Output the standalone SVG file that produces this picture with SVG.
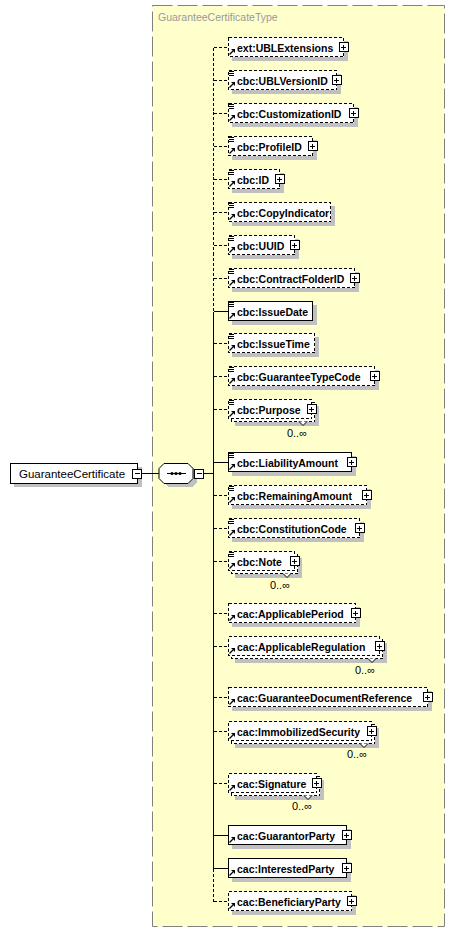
<svg xmlns="http://www.w3.org/2000/svg" xmlns:xlink="http://www.w3.org/1999/xlink" width="457" height="942" viewBox="0 0 457 942">
<style>
.bg{fill:#FFFFCC;stroke:#808080;stroke-width:1;stroke-dasharray:20,5}
.title{font-family:"Liberation Sans",Arial,sans-serif;font-size:10.5px;fill:#999999}
.box{fill:#fff;stroke:#000;stroke-width:1;shape-rendering:crispEdges}
.opt{stroke-dasharray:3,2}
.sh{fill:#C0C0C0;shape-rendering:crispEdges}
.lbl{font-family:"Liberation Sans",Arial,sans-serif;font-size:10.5px;font-weight:bold;fill:#000}
.root{font-family:"Liberation Sans",Arial,sans-serif;font-size:11.5px;fill:#000}
.occ{font-family:"Liberation Sans",Arial,sans-serif;font-size:11px;fill:#000;text-anchor:end}
.ln{stroke:#000;stroke-width:1;fill:none;shape-rendering:crispEdges}
.dl{stroke:#000;stroke-width:1;fill:none;stroke-dasharray:3,2;shape-rendering:crispEdges}
.pm{fill:#fff;stroke:#000;stroke-width:1;shape-rendering:crispEdges}
</style>
<defs>
<g id="ref"><path d="M1.5,6.5 L5,3" stroke="#000" stroke-width="1.3" fill="none"/><polygon points="3,1 7,1 7,5" fill="#000"/></g>
<g id="simple"><path d="M1,1.5 H6 M1,3.5 H6 M1,5.5 H6" stroke="#000" stroke-width="1" fill="none" shape-rendering="crispEdges"/></g>
<g id="plus"><rect x="-4.5" y="-4.5" width="9" height="9" class="pm"/><path d="M-2.5,0 H2.5 M0,-2.5 V2.5" stroke="#000" stroke-width="1" shape-rendering="crispEdges"/></g>
<g id="minus"><rect x="-4.5" y="-4.5" width="9" height="9" class="pm"/><path d="M-2.5,0 H2.5" stroke="#000" stroke-width="1" shape-rendering="crispEdges"/></g>
</defs>

<rect class="bg" x="152.5" y="5.5" width="292" height="921"/>
<text class="title" x="158" y="21">GuaranteeCertificateType</text>

<g id="connectors">
<path class="ln" d="M141.5,473.5 H159"/>
<path class="ln" d="M203.5,473.5 H213.5"/>
<path class="dl" d="M213.5,47.5 V311.5"/>
<path class="ln" d="M213.5,311.5 V868.5"/>
<path class="dl" d="M213.5,868.5 V901.5"/>
<path class="dl" d="M213.5,47.5 H228"/>
<path class="dl" d="M213.5,80.5 H228"/>
<path class="dl" d="M213.5,113.5 H228"/>
<path class="dl" d="M213.5,146.5 H228"/>
<path class="dl" d="M213.5,179.5 H228"/>
<path class="dl" d="M213.5,212.5 H228"/>
<path class="dl" d="M213.5,245.5 H228"/>
<path class="dl" d="M213.5,278.5 H228"/>
<path class="ln" d="M213.5,311.5 H228"/>
<path class="dl" d="M213.5,343.5 H228"/>
<path class="dl" d="M213.5,376.5 H228"/>
<path class="dl" d="M213.5,409.5 H228"/>
<path class="ln" d="M213.5,462.5 H228"/>
<path class="dl" d="M213.5,495.5 H228"/>
<path class="dl" d="M213.5,528.5 H228"/>
<path class="dl" d="M213.5,561.5 H228"/>
<path class="dl" d="M213.5,613.5 H228"/>
<path class="dl" d="M213.5,646.5 H228"/>
<path class="dl" d="M213.5,697.5 H228"/>
<path class="dl" d="M213.5,731.5 H228"/>
<path class="dl" d="M213.5,783.5 H228"/>
<path class="ln" d="M213.5,835.5 H228"/>
<path class="ln" d="M213.5,868.5 H228"/>
<path class="dl" d="M213.5,901.5 H228"/>
</g>

<g id="root">
<rect class="sh" x="14" y="467" width="128" height="20"/>
<rect class="box" x="10.5" y="463.5" width="127" height="20"/>
<text class="root" x="19" y="477.5">GuaranteeCertificate</text>
<use xlink:href="#minus" x="137" y="473.5"/>
</g>

<g id="sequence">
<path class="sh" d="M168,467 H192 L197,472 V482 L192,487 H168 L163,482 V472 Z"/>
<path d="M164,463.5 H188 L193,468.5 V478.5 L188,483.5 H164 L159,478.5 V468.5 Z" fill="#fff" stroke="#000"/>
<path d="M167,473.5 H186" stroke="#000" stroke-width="1"/>
<circle cx="172" cy="473.5" r="1.6"/><circle cx="176" cy="473.5" r="1.6"/><circle cx="180" cy="473.5" r="1.6"/>
<use xlink:href="#minus" x="199" y="473.5"/>
</g>

<g id="e01"><rect class="sh" x="232" y="41" width="116" height="20"/><rect class="box opt" x="228.5" y="37.5" width="115" height="19"/><use xlink:href="#ref" x="228" y="48"/><text class="lbl" x="237" y="51.5">ext:UBLExtensions</text><use xlink:href="#plus" x="343.5" y="47"/></g>
<g id="e02"><rect class="sh" x="232" y="74" width="109" height="20"/><rect class="box opt" x="228.5" y="70.5" width="108" height="19"/><use xlink:href="#simple" x="228" y="70"/><use xlink:href="#ref" x="228" y="81"/><text class="lbl" x="237" y="84.5">cbc:UBLVersionID</text><use xlink:href="#plus" x="336.5" y="80"/></g>
<g id="e03"><rect class="sh" x="232" y="107" width="126" height="20"/><rect class="box opt" x="228.5" y="103.5" width="125" height="19"/><use xlink:href="#simple" x="228" y="103"/><use xlink:href="#ref" x="228" y="114"/><text class="lbl" x="237" y="117.5">cbc:CustomizationID</text><use xlink:href="#plus" x="353.5" y="113"/></g>
<g id="e04"><rect class="sh" x="232" y="140" width="85" height="20"/><rect class="box opt" x="228.5" y="136.5" width="84" height="19"/><use xlink:href="#simple" x="228" y="136"/><use xlink:href="#ref" x="228" y="147"/><text class="lbl" x="237" y="150.5">cbc:ProfileID</text><use xlink:href="#plus" x="312.5" y="146"/></g>
<g id="e05"><rect class="sh" x="232" y="173" width="52" height="20"/><rect class="box opt" x="228.5" y="169.5" width="51" height="19"/><use xlink:href="#simple" x="228" y="169"/><use xlink:href="#ref" x="228" y="180"/><text class="lbl" x="237" y="183.5">cbc:ID</text><use xlink:href="#plus" x="279.5" y="179"/></g>
<g id="e06"><rect class="sh" x="232" y="206" width="103" height="20"/><rect class="box opt" x="228.5" y="202.5" width="102" height="19"/><use xlink:href="#simple" x="228" y="202"/><use xlink:href="#ref" x="228" y="213"/><text class="lbl" x="237" y="216.5">cbc:CopyIndicator</text></g>
<g id="e07"><rect class="sh" x="232" y="239" width="67" height="20"/><rect class="box opt" x="228.5" y="235.5" width="66" height="19"/><use xlink:href="#simple" x="228" y="235"/><use xlink:href="#ref" x="228" y="246"/><text class="lbl" x="237" y="249.5">cbc:UUID</text><use xlink:href="#plus" x="294.5" y="245"/></g>
<g id="e08"><rect class="sh" x="232" y="272" width="127" height="20"/><rect class="box opt" x="228.5" y="268.5" width="126" height="19"/><use xlink:href="#simple" x="228" y="268"/><use xlink:href="#ref" x="228" y="279"/><text class="lbl" x="237" y="282.5">cbc:ContractFolderID</text><use xlink:href="#plus" x="354.5" y="278"/></g>
<g id="e09"><rect class="sh" x="232" y="305" width="85" height="20"/><rect class="box" x="228.5" y="301.5" width="84" height="19"/><use xlink:href="#simple" x="228" y="301"/><use xlink:href="#ref" x="228" y="312"/><text class="lbl" x="237" y="315.5">cbc:IssueDate</text></g>
<g id="e10"><rect class="sh" x="232" y="337" width="87" height="20"/><rect class="box opt" x="228.5" y="333.5" width="86" height="19"/><use xlink:href="#simple" x="228" y="333"/><use xlink:href="#ref" x="228" y="344"/><text class="lbl" x="237" y="347.5">cbc:IssueTime</text></g>
<g id="e11"><rect class="sh" x="232" y="370" width="147" height="20"/><rect class="box opt" x="228.5" y="366.5" width="146" height="19"/><use xlink:href="#simple" x="228" y="366"/><use xlink:href="#ref" x="228" y="377"/><text class="lbl" x="237" y="380.5">cbc:GuaranteeTypeCode</text><use xlink:href="#plus" x="374.5" y="376"/></g>
<g id="e12"><rect class="sh" x="235" y="406" width="84" height="20"/><rect class="box opt" x="231.5" y="402.5" width="83" height="19"/><rect class="box opt" x="228.5" y="399.5" width="83" height="19"/><polyline points="299,421.5 303,425.5 307,421.5" fill="#fff" stroke="#000"/><use xlink:href="#simple" x="228" y="399"/><use xlink:href="#ref" x="228" y="410"/><text class="lbl" x="237" y="413.5">cbc:Purpose</text><use xlink:href="#plus" x="311.5" y="409"/><text class="occ" x="307" y="437">0..∞</text></g>
<g id="e13"><rect class="sh" x="232" y="456" width="124" height="20"/><rect class="box" x="228.5" y="452.5" width="123" height="19"/><use xlink:href="#simple" x="228" y="452"/><use xlink:href="#ref" x="228" y="463"/><text class="lbl" x="237" y="466.5">cbc:LiabilityAmount</text><use xlink:href="#plus" x="351.5" y="462"/></g>
<g id="e14"><rect class="sh" x="232" y="489" width="139" height="20"/><rect class="box opt" x="228.5" y="485.5" width="138" height="19"/><use xlink:href="#simple" x="228" y="485"/><use xlink:href="#ref" x="228" y="496"/><text class="lbl" x="237" y="499.5">cbc:RemainingAmount</text><use xlink:href="#plus" x="366.5" y="495"/></g>
<g id="e15"><rect class="sh" x="232" y="522" width="132" height="20"/><rect class="box opt" x="228.5" y="518.5" width="131" height="19"/><use xlink:href="#simple" x="228" y="518"/><use xlink:href="#ref" x="228" y="529"/><text class="lbl" x="237" y="532.5">cbc:ConstitutionCode</text><use xlink:href="#plus" x="359.5" y="528"/></g>
<g id="e16"><rect class="sh" x="235" y="558" width="67" height="20"/><rect class="box opt" x="231.5" y="554.5" width="66" height="19"/><rect class="box opt" x="228.5" y="551.5" width="66" height="19"/><polyline points="283,573.5 287,577.5 291,573.5" fill="#fff" stroke="#000"/><use xlink:href="#simple" x="228" y="551"/><use xlink:href="#ref" x="228" y="562"/><text class="lbl" x="237" y="565.5">cbc:Note</text><use xlink:href="#plus" x="294.5" y="561"/><text class="occ" x="290" y="589">0..∞</text></g>
<g id="e17"><rect class="sh" x="232" y="607" width="128" height="20"/><rect class="box opt" x="228.5" y="603.5" width="127" height="19"/><use xlink:href="#ref" x="228" y="614"/><text class="lbl" x="237" y="617.5">cac:ApplicablePeriod</text><use xlink:href="#plus" x="355.5" y="613"/></g>
<g id="e18"><rect class="sh" x="235" y="643" width="152" height="20"/><rect class="box opt" x="231.5" y="639.5" width="151" height="19"/><rect class="box opt" x="228.5" y="636.5" width="151" height="19"/><polyline points="368,658.5 372,662.5 376,658.5" fill="#fff" stroke="#000"/><use xlink:href="#ref" x="228" y="647"/><text class="lbl" x="237" y="650.5">cac:ApplicableRegulation</text><use xlink:href="#plus" x="379.5" y="646"/><text class="occ" x="375" y="674">0..∞</text></g>
<g id="e19"><rect class="sh" x="232" y="691" width="200" height="20"/><rect class="box opt" x="228.5" y="687.5" width="199" height="19"/><use xlink:href="#ref" x="228" y="698"/><text class="lbl" x="237" y="701.5">cac:GuaranteeDocumentReference</text><use xlink:href="#plus" x="427.5" y="697"/></g>
<g id="e20"><rect class="sh" x="235" y="728" width="144" height="20"/><rect class="box opt" x="231.5" y="724.5" width="143" height="19"/><rect class="box opt" x="228.5" y="721.5" width="143" height="19"/><polyline points="360,743.5 364,747.5 368,743.5" fill="#fff" stroke="#000"/><use xlink:href="#ref" x="228" y="732"/><text class="lbl" x="237" y="735.5">cac:ImmobilizedSecurity</text><use xlink:href="#plus" x="371.5" y="731"/><text class="occ" x="367" y="758">0..∞</text></g>
<g id="e21"><rect class="sh" x="235" y="780" width="89" height="20"/><rect class="box opt" x="231.5" y="776.5" width="88" height="19"/><rect class="box opt" x="228.5" y="773.5" width="88" height="19"/><polyline points="304,795.5 308,799.5 312,795.5" fill="#fff" stroke="#000"/><use xlink:href="#ref" x="228" y="784"/><text class="lbl" x="237" y="787.5">cac:Signature</text><use xlink:href="#plus" x="316.5" y="783"/><text class="occ" x="312" y="810">0..∞</text></g>
<g id="e22"><rect class="sh" x="232" y="829" width="119" height="20"/><rect class="box" x="228.5" y="825.5" width="118" height="19"/><use xlink:href="#ref" x="228" y="836"/><text class="lbl" x="237" y="839.5">cac:GuarantorParty</text><use xlink:href="#plus" x="346.5" y="835"/></g>
<g id="e23"><rect class="sh" x="232" y="862" width="119" height="20"/><rect class="box" x="228.5" y="858.5" width="118" height="19"/><use xlink:href="#ref" x="228" y="869"/><text class="lbl" x="237" y="872.5">cac:InterestedParty</text><use xlink:href="#plus" x="346.5" y="868"/></g>
<g id="e24"><rect class="sh" x="232" y="895" width="124" height="20"/><rect class="box opt" x="228.5" y="891.5" width="123" height="19"/><use xlink:href="#ref" x="228" y="902"/><text class="lbl" x="237" y="905.5">cac:BeneficiaryParty</text><use xlink:href="#plus" x="351.5" y="901"/></g>
</svg>
